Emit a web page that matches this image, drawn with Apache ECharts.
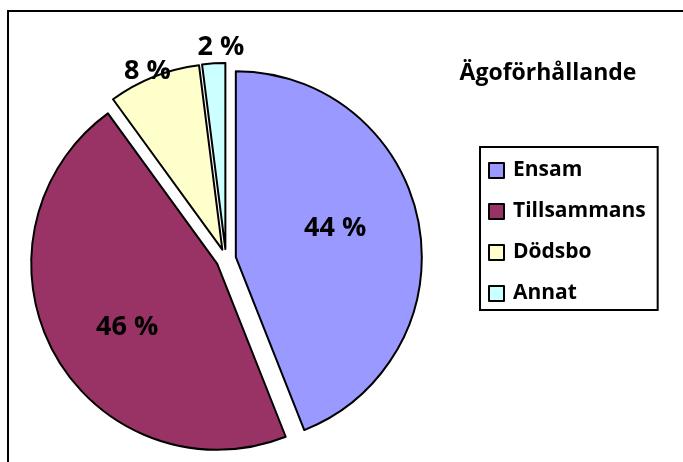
<!DOCTYPE html>
<html>
<head>
<meta charset="utf-8">
<script src="https://cdn.jsdelivr.net/npm/echarts@6/dist/echarts.min.js"></script>
<style>
    html, body { margin: 0; padding: 0; background: #fff; }
    #chart { width: 683px; height: 462px; }
</style>
</head>
<body>
<div id="chart"></div>
<script>
// kategorier och andelar (%)
const categories = ['Ensam', 'Tillsammans', 'Dödsbo', 'Annat'];
const values = [44, 46, 8, 2];
const colors = ['#9999FF', '#993366', '#FFFFCC', '#CCFFFF'];
const insideLabels = [true, true, false, false];
// små justeringar av etikettläget för att likna originalet
const labelShift = [[5, -11], [-6, 17], [51, -16], [36, -10]];

const fontFam = '"Open Sans", sans-serif';

let chart = echarts.init(document.getElementById('chart'));

let seriesData = categories.map((name, i) => ({
    name: name,
    value: values[i],
    selected: true,
    itemStyle: { color: colors[i] },
    label: { position: insideLabels[i] ? 'inside' : 'outside' },
}));

let option = {
    animation: false,
    title: {
        text: 'Ägoförhållande',
        left: 543,
        top: 57,
        textAlign: 'center',
        textStyle: { fontFamily: fontFam, fontWeight: 'bold', fontSize: 23, color: '#000' }
    },
    legend: {
        orient: 'vertical',
        left: 480,
        top: 147,
        padding: [13, 12, 6, 8],
        itemGap: 20,
        itemWidth: 15,
        itemHeight: 15,
        icon: 'rect',
        borderColor: '#000',
        borderWidth: 2,
        selectedMode: false,
        itemStyle: { borderColor: '#000', borderWidth: 2 },
        textStyle: { fontFamily: fontFam, fontWeight: 'bold', fontSize: 21, color: '#000', padding: [0, 0, 0, 4] },
        data: categories
    },
    graphic: [{
        type: 'rect',
        shape: { x: 8, y: 11, width: 700, height: 480 },
        style: { fill: 'none', stroke: '#000', lineWidth: 2 },
        silent: true
    }],
    series: [{
        type: 'pie',
        center: [226, 259],
        radius: 186,
        startAngle: 90,
        clockwise: true,
        selectedMode: 'multiple',
        selectedOffset: 10,
        emphasis: { disabled: true },
        itemStyle: { borderColor: '#000', borderWidth: 2 },
        label: {
            show: true,
            formatter: '{c} %',
            fontFamily: fontFam,
            fontWeight: 'bold',
            fontSize: 27,
            color: '#000'
        },
        labelLine: { show: false, length: 6, length2: 0 },
        labelLayout: function (params) {
            let s = labelShift[params.dataIndex];
            return { dx: s[0], dy: s[1] };
        },
        data: seriesData
    }]
};

chart.setOption(option);
</script>
</body>
</html>
